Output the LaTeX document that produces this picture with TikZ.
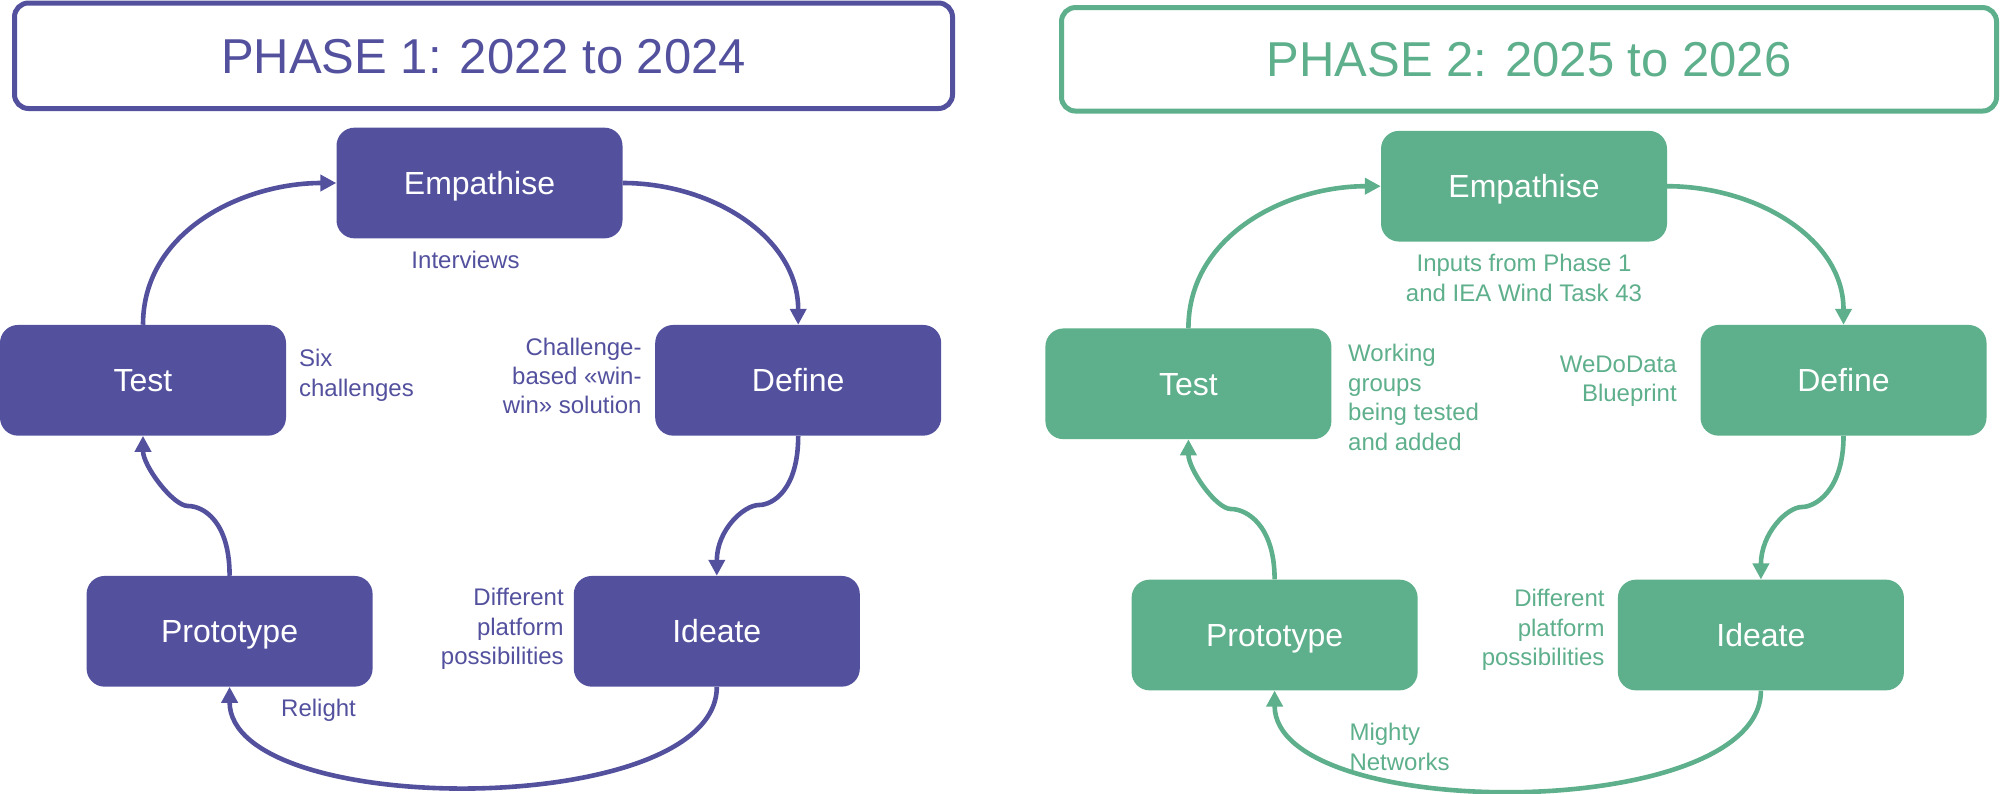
\documentclass[tikz,border=0pt]{standalone}
\usepackage{fontspec}
\setmainfont{Liberation Sans}
\usetikzlibrary{arrows.meta}
\definecolor{phaseone}{RGB}{83,81,158}
\definecolor{phasetwo}{RGB}{94,175,139}
\begin{document}
\begin{tikzpicture}
[
    x=1pt, y=1pt,
    head/.style={draw=#1, line width=5pt, rounded corners=14pt, text=#1,
        font=\fontsize{49}{58}\selectfont, text height=35pt, text depth=0pt},
    stage/.style={fill=#1, rounded corners=18pt, text=white,
        minimum width=286pt, minimum height=110.7pt,
        font=\fontsize{32}{38}\selectfont, text height=23pt, text depth=0pt},
    note/.style={text=#1, inner sep=0pt, font=\fontsize{24}{29.4}\selectfont},
    link/.style={draw=#1, line width=4.6pt, -{Triangle[length=16pt,width=16pt]}},
]
\useasboundingbox (0,0) rectangle (2001,-793);

% phase 1
\node[head=phaseone, minimum width=938pt, minimum height=105.5pt] (head1) at (483.5,-55.75) {PHASE 1: 2022 to 2024};
\node[stage=phaseone] (emp1) at (479.5,-183) {Empathise};
\node[stage=phaseone] (def1) at (798.2,-380.3) {Define};
\node[stage=phaseone] (ide1) at (716.8,-631.3) {Ideate};
\node[stage=phaseone] (pro1) at (229.6,-631.3) {Prototype};
\node[stage=phaseone] (tst1) at (143,-380.3) {Test};
\node[note=phaseone, anchor=base] (int1) at (465.5,-268.3) {Interviews};
\node[note=phaseone, anchor=north east, align=right] (cha1) at (641.8,-337.5) {Challenge-\\based «win-\\win» solution};
\node[note=phaseone, anchor=north east, align=right] (dif1) at (563.9,-588.2) {Different\\platform\\possibilities};
\node[note=phaseone, anchor=base west] (rel1) at (281,-716) {Relight};
\node[note=phaseone, anchor=north west, align=left] (six1) at (298.9,-349.2) {Six\\challenges};
\coordinate (k11) at (759,-505);
\coordinate (k12) at (188,-506);
\draw[link=phaseone] (tst1.north) to[out=90,in=180] (emp1.west);
\draw[link=phaseone] (emp1.east) to[out=0,in=90] (def1.north);
\draw[link=phaseone] (def1.south) .. controls +(0,-55) and +(13,0) .. (k11) .. controls +(-15,0) and +(0,46) .. (ide1.north);
\draw[link=phaseone] (ide1.south) .. controls +(0,-133) and +(0,-133) .. (pro1.south);
\draw[link=phaseone] (pro1.north) .. controls +(0,55) and +(15,0) .. (k12) .. controls +(-15,0) and +(0,-30) .. (tst1.south);

% phase 2
\node[head=phasetwo, minimum width=935pt, minimum height=103.5pt] (head2) at (1529,-59.3) {PHASE 2: 2025 to 2026};
\node[stage=phasetwo] (emp2) at (1524,-186.2) {Empathise};
\node[stage=phasetwo] (def2) at (1843.5,-380.3) {Define};
\node[stage=phasetwo] (ide2) at (1760.9,-635) {Ideate};
\node[stage=phasetwo] (pro2) at (1274.6,-635) {Prototype};
\node[stage=phasetwo] (tst2) at (1188.4,-383.8) {Test};
\node[note=phasetwo, anchor=north, align=center] (inp2) at (1524,-254.2) {Inputs from Phase 1\\and IEA Wind Task 43};
\node[note=phasetwo, anchor=north east, align=right] (wdd2) at (1676.9,-355.8) {WeDoData\\Blueprint};
\node[note=phasetwo, anchor=north east, align=right] (dif2) at (1604.7,-589.2) {Different\\platform\\possibilities};
\node[note=phasetwo, anchor=north west, align=left] (mig2) at (1349.3,-723.2) {Mighty\\Networks};
\node[note=phasetwo, anchor=north west, align=left] (wrk2) at (1348,-344.2) {Working\\groups\\being tested\\and added};
\coordinate (k21) at (1802,-507);
\coordinate (k22) at (1231,-509);
\draw[link=phasetwo] (tst2.north) to[out=90,in=180] (emp2.west);
\draw[link=phasetwo] (emp2.east) to[out=0,in=90] (def2.north);
\draw[link=phasetwo] (def2.south) .. controls +(0,-55) and +(13,0) .. (k21) .. controls +(-15,0) and +(0,46) .. (ide2.north);
\draw[link=phasetwo] (ide2.south) .. controls +(0,-133) and +(0,-133) .. (pro2.south);
\draw[link=phasetwo] (pro2.north) .. controls +(0,55) and +(15,0) .. (k22) .. controls +(-15,0) and +(0,-30) .. (tst2.south);
\end{tikzpicture}
\end{document}
